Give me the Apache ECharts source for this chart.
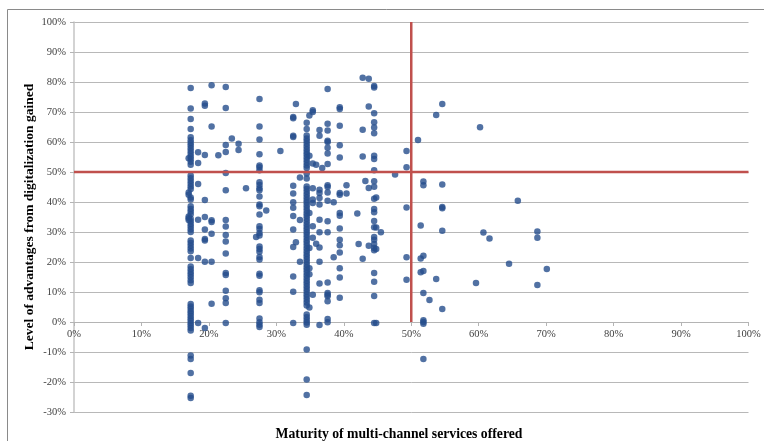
<!DOCTYPE html>
<html>
<head>
<meta charset="utf-8">
<script src="https://cdn.jsdelivr.net/npm/echarts@6/dist/echarts.min.js"></script>
<style>html,body{margin:0;padding:0;background:#fff;}#c{width:764px;height:441px;}</style>
</head>
<body>
<div id="c"></div>
<script>
// Column x positions (% maturity) and the y values (% advantages) of the points in each column
const colX = [17.3, 17.0, 18.4, 19.4, 20.4, 21.4, 22.5, 23.4, 24.4, 25.5, 27.5, 27.0, 28.5, 30.6, 32.5, 32.9, 33.5, 34.5, 34.9, 35.4, 35.9, 36.4, 36.8, 37.6, 38.5, 39.4, 40.4, 42.0, 42.2, 42.8, 43.2, 43.7, 44.5, 44.8, 45.5, 47.6, 49.3, 51.0, 51.4, 51.8, 52.7, 53.7, 54.6, 59.6, 60.2, 60.7, 61.6, 64.5, 65.8, 68.7, 70.1];
const colY = [
  [78, 71.2, 67.7, 64.3, 61.6, 60.6, 59.7, 58.8, 57.9, 57.0, 56.1, 55.2, 54.3, 53.4, 52.4, 48.8, 47.9, 47.0, 46.1, 45.2, 44.3, 41.5, 40.8, 38.6, 37.7, 36.8, 35.9, 34.4, 33.6, 32.7, 31.8, 30.9, 30.0, 27.2, 26.3, 25.4, 24.5, 23.6, 21.3, 18.5, 17.6, 16.7, 15.8, 14.9, 13.9, 13.0, 6.0, 5.2, 4.4, 3.6, 2.8, 2.0, 1.2, 0.4, -0.4, -1.2, -2.0, -2.8, -11.2, -12.3, -17.0, -24.6, -25.3],
  [54.6, 43.2, 42.4, 35.2, 34.6, 34.0],
  [56.6, 53.0, 46.0, 34.1, 21.3, -0.3],
  [72.8, 72.1, 55.7, 40.7, 35.0, 30.8, 27.7, 27.2, 20.1, -2.0],
  [78.9, 65.2, 33.9, 33.3, 29.4, 20.1, 6.1],
  [55.6],
  [78.3, 71.3, 59.0, 56.7, 49.7, 43.9, 34.0, 31.8, 29.0, 26.8, 22.8, 16.3, 15.7, 10.4, 7.9, 6.3, -0.3],
  [61.2],
  [59.4, 57.3],
  [44.6],
  [74.3, 65.2, 60.8, 55.9, 52.2, 51.6, 50.6, 46.6, 45.7, 44.6, 43.9, 41.8, 39.2, 38.6, 35.8, 31.9, 31.0, 29.7, 28.8, 25.2, 24.3, 23.4, 21.7, 20.8, 16.1, 15.4, 10.6, 9.9, 7.4, 6.3, 1.2, -0.1, -0.9, -1.7],
  [28.3],
  [37.2],
  [57.0],
  [68.3, 67.9, 62.1, 61.7, 45.4, 42.8, 39.9, 38.1, 35.3, 30.8, 25.0, 15.2, 10.1, -0.3],
  [72.7, 26.6],
  [48.2, 34.0, 20.1],
  [66.4, 64.3, 62.2, 61.2, 60.3, 59.4, 58.5, 57.6, 56.7, 55.8, 54.9, 54.0, 53.1, 52.2, 51.3, 49.5, 47.8, 45.2, 44.3, 43.4, 42.5, 41.6, 40.7, 39.8, 38.9, 38.0, 37.1, 36.2, 35.3, 34.4, 33.5, 32.6, 31.7, 30.8, 29.9, 29.0, 28.1, 27.2, 26.3, 25.4, 24.5, 23.6, 22.7, 21.8, 20.9, 20.0, 19.1, 18.2, 17.3, 16.4, 15.5, 14.6, 13.7, 12.8, 11.9, 11.0, 10.1, 9.2, 8.3, 7.4, 6.5, 5.5, 2.5, 1.6, 0.7, -0.2, -0.9, -9.2, -19.2, -24.3],
  [68.8, 55.4, 36.3, 24.7, 17.9, 15.9, 4.8],
  [70.6, 70.0, 52.8, 44.6, 40.8, 39.7, 31.9, 28.1, 9.1],
  [52.4, 26.1],
  [64.0, 62.1, 44.1, 43.0, 41.3, 39.2, 34.1, 29.9, 24.8, 20.1, 12.8, -1.0],
  [51.3],
  [77.7, 66.1, 63.8, 60.4, 60.0, 58.1, 56.2, 52.7, 45.6, 45.0, 43.2, 40.4, 33.6, 29.9, 13.2, 9.7, 9.1, 8.6, 6.9, 1.0, -0.1],
  [39.9, 21.6],
  [71.6, 71.0, 65.4, 58.9, 54.8, 43.0, 42.4, 36.3, 35.4, 31.2, 27.4, 25.6, 23.2, 17.9, 14.8, 8.1],
  [45.6, 42.8],
  [36.2],
  [26.0],
  [81.4, 64.1, 55.2, 21.1],
  [47.0],
  [81.1, 71.8, 44.7, 25.4],
  [78.7, 78.2, 69.6, 66.6, 64.8, 62.9, 55.4, 54.3, 50.6, 46.9, 45.1, 41.1, 37.7, 36.6, 33.7, 31.6, 28.3, 27.4, 26.0, 24.7, 23.9, 16.3, 13.4, 8.7, -0.3],
  [41.5, 31.5, 24.3, -0.3],
  [29.9],
  [49.2],
  [57.0, 51.6, 38.2, 21.6, 14.1],
  [60.7],
  [32.2, 21.2, 16.6],
  [46.8, 45.6, 22.1, 17.0, 9.7, 0.6, 0.0, -0.6, -12.3],
  [7.3],
  [69.0, 14.3],
  [72.7, 45.8, 38.3, 37.9, 30.4, 4.3],
  [13.0],
  [64.9],
  [29.8],
  [27.8],
  [19.4],
  [40.4],
  [30.2, 28.1, 12.3],
  [17.7]
];
// Threshold lines at 50%
const hLine = [[0, 50], [100, 50]];
const vLine = [[50, 0], [50, 100]];
const xTitle = 'Maturity of multi-channel services offered';
const yTitle = 'Level of advantages from digitalization gained';

const points = [];
colX.forEach((x, i) => colY[i].forEach(y => points.push([x, y])));

const chart = echarts.init(document.getElementById('c'), null, {renderer: 'canvas'});
const serif = '"Liberation Serif", "Times New Roman", serif';
const gridTop = 22, gridBottom = 29, yMin = -30, yMax = 100;
const plotH = 441 - gridTop - gridBottom;
// shift the x axis up to the zero line
const zeroOffset = -plotH * (0 - yMin) / (yMax - yMin);
chart.setOption({
  animation: false,
  backgroundColor: '#ffffff',
  grid: {left: 74, right: 15.5, top: gridTop, bottom: gridBottom, containLabel: false},
  xAxis: {
    type: 'value', min: 0, max: 100, interval: 10, position: 'bottom', offset: zeroOffset,
    axisLine: {show: true, onZero: false, lineStyle: {color: '#b4b4b4', width: 1}},
    axisTick: {show: true, length: 4, lineStyle: {color: '#b4b4b4'}},
    splitLine: {show: false},
    axisLabel: {formatter: '{value}%', fontFamily: serif, fontSize: 10.5, color: '#404040', margin: 7}
  },
  yAxis: {
    type: 'value', min: yMin, max: yMax, interval: 10,
    axisLine: {show: true, onZero: false, lineStyle: {color: '#c4c4c4', width: 1.5}},
    axisTick: {show: true, length: 4, lineStyle: {color: '#b4b4b4'}},
    splitLine: {show: true, lineStyle: {color: '#b8b8b8', width: 1}},
    axisLabel: {formatter: '{value}%', fontFamily: serif, fontSize: 10.5, color: '#404040', margin: 8}
  },
  graphic: [
    {type: 'rect', silent: true, shape: {x: 7.5, y: 9.5, width: 800, height: 500}, style: {fill: 'none', stroke: '#8a8a8a', lineWidth: 1}},
    {type: 'text', silent: true, x: 399, y: 434, style: {text: xTitle, fontFamily: serif, fontWeight: 'bold', fontSize: 13.7, fill: '#000', textAlign: 'center', textVerticalAlign: 'middle'}},
    {type: 'text', silent: true, x: 30, y: 217, rotation: Math.PI / 2, style: {text: yTitle, fontFamily: serif, fontWeight: 'bold', fontSize: 13.5, fill: '#000', textAlign: 'center', textVerticalAlign: 'middle'}}
  ],
  series: [
    {type: 'scatter', data: points, symbol: 'circle', symbolSize: 6.5, itemStyle: {color: '#264e8c'}, z: 2},
    {type: 'line', data: hLine, symbol: 'none', lineStyle: {color: '#c0504d', width: 2.5}, z: 3, silent: true},
    {type: 'line', data: vLine, symbol: 'none', lineStyle: {color: '#c0504d', width: 2.5}, z: 3, silent: true}
  ]
});
</script>
</body>
</html>
